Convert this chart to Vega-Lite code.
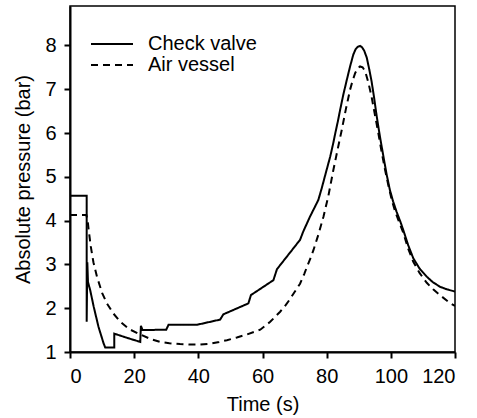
{
  "$schema": "https://vega.github.io/schema/vega-lite/v6.json",
  "width": 385,
  "height": 346,
  "autosize": "none",
  "padding": {"left": 70, "top": 6, "right": 22, "bottom": 66},
  "background": "white",
  "config": {
    "font": "Liberation Sans",
    "view": {"stroke": "black", "strokeWidth": 1.5},
    "axis": {
      "grid": false,
      "domainColor": "black",
      "domainWidth": 2,
      "tickColor": "black",
      "tickWidth": 2,
      "tickSize": 6,
      "labelFontSize": 20,
      "labelColor": "black",
      "labelFont": "Liberation Sans",
      "titleFont": "Liberation Sans",
      "titleFontSize": 20,
      "titleFontWeight": "normal",
      "titleColor": "black"
    }
  },
  "data": {
    "values": [
      {"series": "Check valve", "i": 1, "t": 0, "p": 4.57},
      {"series": "Check valve", "i": 2, "t": 5.2, "p": 4.57},
      {"series": "Check valve", "i": 3, "t": 5.2, "p": 1.69},
      {"series": "Check valve", "i": 4, "t": 5.4, "p": 3.05},
      {"series": "Check valve", "i": 5, "t": 5.6, "p": 2.6},
      {"series": "Check valve", "i": 6, "t": 6.3, "p": 2.41},
      {"series": "Check valve", "i": 7, "t": 7.4, "p": 2.03},
      {"series": "Check valve", "i": 8, "t": 8.9, "p": 1.57},
      {"series": "Check valve", "i": 9, "t": 10.5, "p": 1.19},
      {"series": "Check valve", "i": 10, "t": 11.0, "p": 1.1},
      {"series": "Check valve", "i": 11, "t": 13.8, "p": 1.1},
      {"series": "Check valve", "i": 12, "t": 13.8, "p": 1.42},
      {"series": "Check valve", "i": 13, "t": 17.5, "p": 1.33},
      {"series": "Check valve", "i": 14, "t": 21.9, "p": 1.23},
      {"series": "Check valve", "i": 15, "t": 22.1, "p": 1.6},
      {"series": "Check valve", "i": 16, "t": 22.6, "p": 1.5},
      {"series": "Check valve", "i": 17, "t": 30.0, "p": 1.51},
      {"series": "Check valve", "i": 18, "t": 30.7, "p": 1.62},
      {"series": "Check valve", "i": 19, "t": 39.5, "p": 1.62},
      {"series": "Check valve", "i": 20, "t": 46.8, "p": 1.74},
      {"series": "Check valve", "i": 21, "t": 47.8, "p": 1.86},
      {"series": "Check valve", "i": 22, "t": 55.6, "p": 2.11},
      {"series": "Check valve", "i": 23, "t": 56.4, "p": 2.3},
      {"series": "Check valve", "i": 24, "t": 63.4, "p": 2.64},
      {"series": "Check valve", "i": 25, "t": 64.5, "p": 2.89},
      {"series": "Check valve", "i": 26, "t": 71.7, "p": 3.56},
      {"series": "Check valve", "i": 27, "t": 72.7, "p": 3.75},
      {"series": "Check valve", "i": 28, "t": 74.8, "p": 4.09},
      {"series": "Check valve", "i": 29, "t": 77.4, "p": 4.47},
      {"series": "Check valve", "i": 30, "t": 78.5, "p": 4.75},
      {"series": "Check valve", "i": 31, "t": 79.7, "p": 5.08},
      {"series": "Check valve", "i": 32, "t": 81.1, "p": 5.46},
      {"series": "Check valve", "i": 33, "t": 82.0, "p": 5.75},
      {"series": "Check valve", "i": 34, "t": 82.7, "p": 6.0},
      {"series": "Check valve", "i": 35, "t": 83.5, "p": 6.27},
      {"series": "Check valve", "i": 36, "t": 84.2, "p": 6.53},
      {"series": "Check valve", "i": 37, "t": 85.2, "p": 6.88},
      {"series": "Check valve", "i": 38, "t": 86.3, "p": 7.22},
      {"series": "Check valve", "i": 39, "t": 87.3, "p": 7.52},
      {"series": "Check valve", "i": 40, "t": 88.3, "p": 7.79},
      {"series": "Check valve", "i": 41, "t": 89.0, "p": 7.91},
      {"series": "Check valve", "i": 42, "t": 89.7, "p": 7.97},
      {"series": "Check valve", "i": 43, "t": 90.4, "p": 7.99},
      {"series": "Check valve", "i": 44, "t": 91.0, "p": 7.96},
      {"series": "Check valve", "i": 45, "t": 91.7, "p": 7.88},
      {"series": "Check valve", "i": 46, "t": 92.5, "p": 7.72},
      {"series": "Check valve", "i": 47, "t": 93.2, "p": 7.48},
      {"series": "Check valve", "i": 48, "t": 94.0, "p": 7.18},
      {"series": "Check valve", "i": 49, "t": 94.8, "p": 6.8},
      {"series": "Check valve", "i": 50, "t": 95.6, "p": 6.38},
      {"series": "Check valve", "i": 51, "t": 96.6, "p": 5.92},
      {"series": "Check valve", "i": 52, "t": 97.7, "p": 5.46},
      {"series": "Check valve", "i": 53, "t": 98.7, "p": 5.05},
      {"series": "Check valve", "i": 54, "t": 99.7, "p": 4.7},
      {"series": "Check valve", "i": 55, "t": 100.7, "p": 4.44},
      {"series": "Check valve", "i": 56, "t": 101.8, "p": 4.2},
      {"series": "Check valve", "i": 57, "t": 103.0, "p": 3.97},
      {"series": "Check valve", "i": 58, "t": 103.9, "p": 3.78},
      {"series": "Check valve", "i": 59, "t": 105.4, "p": 3.44},
      {"series": "Check valve", "i": 60, "t": 107.0, "p": 3.14},
      {"series": "Check valve", "i": 61, "t": 109.0, "p": 2.9},
      {"series": "Check valve", "i": 62, "t": 111.2, "p": 2.72},
      {"series": "Check valve", "i": 63, "t": 113.0, "p": 2.6},
      {"series": "Check valve", "i": 64, "t": 115.3, "p": 2.49},
      {"series": "Check valve", "i": 65, "t": 117.5, "p": 2.43},
      {"series": "Check valve", "i": 66, "t": 120, "p": 2.38},
      {"series": "Air vessel", "i": 1, "t": 0, "p": 4.13},
      {"series": "Air vessel", "i": 2, "t": 5.1, "p": 4.13},
      {"series": "Air vessel", "i": 3, "t": 5.5, "p": 4.0},
      {"series": "Air vessel", "i": 4, "t": 5.8, "p": 3.8},
      {"series": "Air vessel", "i": 5, "t": 6.5, "p": 3.4},
      {"series": "Air vessel", "i": 6, "t": 7.3, "p": 3.05},
      {"series": "Air vessel", "i": 7, "t": 8.4, "p": 2.72},
      {"series": "Air vessel", "i": 8, "t": 10.0, "p": 2.35},
      {"series": "Air vessel", "i": 9, "t": 11.5, "p": 2.11},
      {"series": "Air vessel", "i": 10, "t": 13.5, "p": 1.88},
      {"series": "Air vessel", "i": 11, "t": 15.7, "p": 1.69},
      {"series": "Air vessel", "i": 12, "t": 18.5, "p": 1.52},
      {"series": "Air vessel", "i": 13, "t": 21.9, "p": 1.4},
      {"series": "Air vessel", "i": 14, "t": 25.0, "p": 1.3},
      {"series": "Air vessel", "i": 15, "t": 28.1, "p": 1.23},
      {"series": "Air vessel", "i": 16, "t": 31.0, "p": 1.2},
      {"series": "Air vessel", "i": 17, "t": 34.3, "p": 1.18},
      {"series": "Air vessel", "i": 18, "t": 37.5, "p": 1.17},
      {"series": "Air vessel", "i": 19, "t": 40.6, "p": 1.17},
      {"series": "Air vessel", "i": 20, "t": 43.7, "p": 1.19},
      {"series": "Air vessel", "i": 21, "t": 46.5, "p": 1.23},
      {"series": "Air vessel", "i": 22, "t": 48.9, "p": 1.27},
      {"series": "Air vessel", "i": 23, "t": 52.0, "p": 1.33},
      {"series": "Air vessel", "i": 24, "t": 55.1, "p": 1.4},
      {"series": "Air vessel", "i": 25, "t": 59.3, "p": 1.51},
      {"series": "Air vessel", "i": 26, "t": 62.4, "p": 1.69},
      {"series": "Air vessel", "i": 27, "t": 65.5, "p": 1.92},
      {"series": "Air vessel", "i": 28, "t": 67.0, "p": 2.05},
      {"series": "Air vessel", "i": 29, "t": 68.5, "p": 2.2},
      {"series": "Air vessel", "i": 30, "t": 70.0, "p": 2.37},
      {"series": "Air vessel", "i": 31, "t": 71.7, "p": 2.56},
      {"series": "Air vessel", "i": 32, "t": 73.0, "p": 2.78},
      {"series": "Air vessel", "i": 33, "t": 74.0, "p": 2.97},
      {"series": "Air vessel", "i": 34, "t": 75.0, "p": 3.15},
      {"series": "Air vessel", "i": 35, "t": 75.9, "p": 3.33},
      {"series": "Air vessel", "i": 36, "t": 77.5, "p": 3.7},
      {"series": "Air vessel", "i": 37, "t": 79.0, "p": 4.09},
      {"series": "Air vessel", "i": 38, "t": 80.5, "p": 4.55},
      {"series": "Air vessel", "i": 39, "t": 82.1, "p": 5.16},
      {"series": "Air vessel", "i": 40, "t": 83.4, "p": 5.62},
      {"series": "Air vessel", "i": 41, "t": 84.7, "p": 6.07},
      {"series": "Air vessel", "i": 42, "t": 86.0, "p": 6.55},
      {"series": "Air vessel", "i": 43, "t": 87.3, "p": 6.99},
      {"series": "Air vessel", "i": 44, "t": 88.1, "p": 7.2},
      {"series": "Air vessel", "i": 45, "t": 88.9, "p": 7.37},
      {"series": "Air vessel", "i": 46, "t": 89.7, "p": 7.48},
      {"series": "Air vessel", "i": 47, "t": 90.4, "p": 7.52},
      {"series": "Air vessel", "i": 48, "t": 91.2, "p": 7.5},
      {"series": "Air vessel", "i": 49, "t": 92.0, "p": 7.41},
      {"series": "Air vessel", "i": 50, "t": 93.0, "p": 7.15},
      {"series": "Air vessel", "i": 51, "t": 94.0, "p": 6.83},
      {"series": "Air vessel", "i": 52, "t": 95.0, "p": 6.43},
      {"series": "Air vessel", "i": 53, "t": 96.1, "p": 6.0},
      {"series": "Air vessel", "i": 54, "t": 97.1, "p": 5.58},
      {"series": "Air vessel", "i": 55, "t": 98.2, "p": 5.16},
      {"series": "Air vessel", "i": 56, "t": 99.3, "p": 4.78},
      {"series": "Air vessel", "i": 57, "t": 100.3, "p": 4.47},
      {"series": "Air vessel", "i": 58, "t": 101.3, "p": 4.22},
      {"series": "Air vessel", "i": 59, "t": 102.5, "p": 3.98},
      {"series": "Air vessel", "i": 60, "t": 103.9, "p": 3.72},
      {"series": "Air vessel", "i": 61, "t": 105.4, "p": 3.36},
      {"series": "Air vessel", "i": 62, "t": 107.0, "p": 3.06},
      {"series": "Air vessel", "i": 63, "t": 109.0, "p": 2.8},
      {"series": "Air vessel", "i": 64, "t": 111.2, "p": 2.58},
      {"series": "Air vessel", "i": 65, "t": 113.2, "p": 2.43},
      {"series": "Air vessel", "i": 66, "t": 115.3, "p": 2.3},
      {"series": "Air vessel", "i": 67, "t": 118.4, "p": 2.12},
      {"series": "Air vessel", "i": 68, "t": 120, "p": 2.05}
    ]
  },
  "mark": {"type": "line", "color": "black", "strokeWidth": 2, "clip": true},
  "encoding": {
    "x": {
      "field": "t", "type": "quantitative",
      "scale": {"domain": [0, 120], "nice": false},
      "axis": {"title": "Time (s)", "values": [0, 20, 40, 60, 80, 100, 120], "labelPadding": 8, "titlePadding": 8}
    },
    "y": {
      "field": "p", "type": "quantitative",
      "scale": {"domain": [1, 8.9], "nice": false, "zero": false},
      "axis": {"title": "Absolute pressure (bar)", "values": [1, 2, 3, 4, 5, 6, 7, 8], "labelPadding": 8, "titlePadding": 11}
    },
    "strokeDash": {
      "field": "series", "type": "nominal",
      "scale": {"domain": ["Check valve", "Air vessel"], "range": [[1, 0], [7, 5]]},
      "legend": {
        "title": null,
        "orient": "none",
        "legendX": 31,
        "legendY": 27,
        "symbolType": "M-2.1,0H2.1",
        "symbolSize": 400,
        "symbolStrokeWidth": 2,
        "symbolStrokeColor": "black",
        "labelFontSize": 20,
        "labelColor": "black",
        "labelOffset": 25,
        "rowPadding": 0
      }
    },
    "order": {"field": "i", "type": "quantitative"}
  }
}
